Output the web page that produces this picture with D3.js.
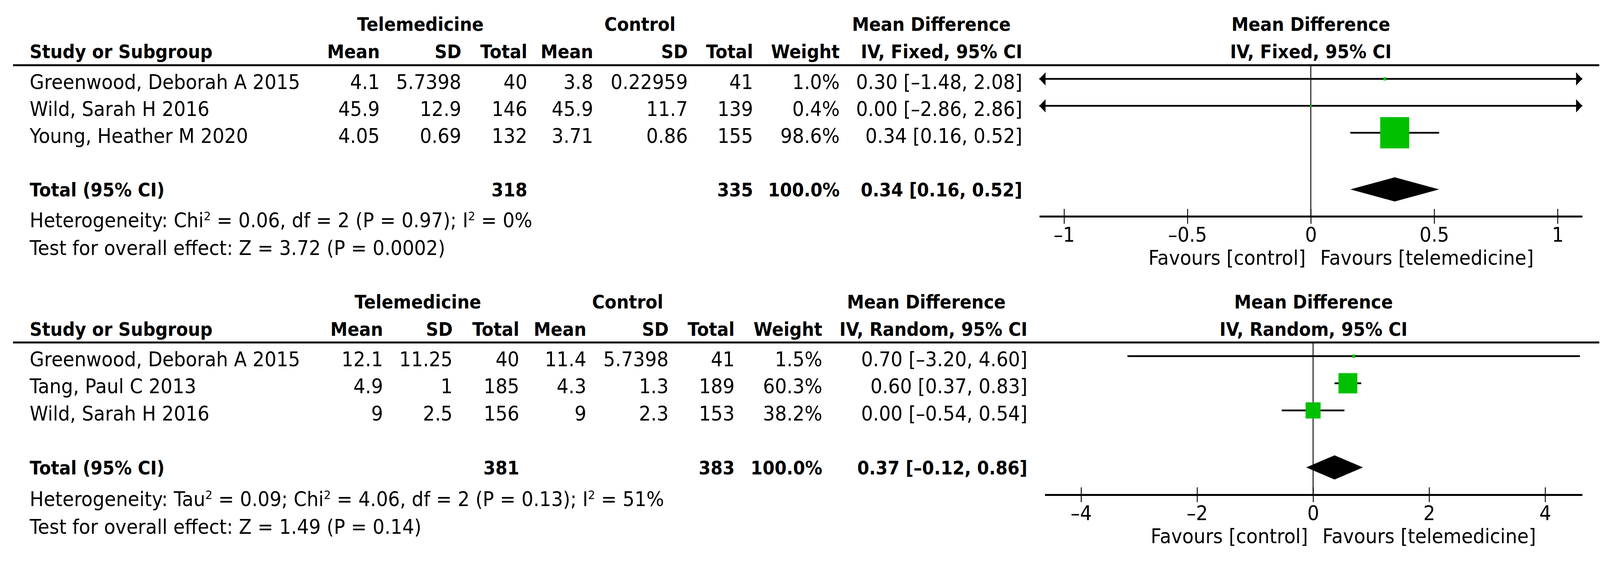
<!DOCTYPE html>
<html>
<head>
<meta charset="utf-8">
<script src="https://cdn.jsdelivr.net/npm/d3@7"></script>
<style>
  html, body { margin: 0; padding: 0; background: #fff; overflow: hidden; }
  svg { display: block; }
  text { font-family: "DejaVu Sans", sans-serif; font-size: 51.5px; fill: #000; }
  .b { font-weight: bold; font-size: 47.5px; }
</style>
</head>
<body>
<div id="chart"></div>
<script>
// panel 1 : IV, Fixed
const studies1 = ["Greenwood, Deborah A 2015", "Wild, Sarah H 2016", "Young, Heather M 2020"];
const teleMean1 = [4.1, 45.9, 4.05];
const teleSD1 = [5.7398, 12.9, 0.69];
const teleN1 = [40, 146, 132];
const ctrlMean1 = [3.8, 45.9, 3.71];
const ctrlSD1 = [0.22959, 11.7, 0.86];
const ctrlN1 = [41, 139, 155];
const weight1 = [1.0, 0.4, 98.6];
const md1 = [0.30, 0.00, 0.34];
const lo1 = [-1.48, -2.86, 0.16];
const hi1 = [2.08, 2.86, 0.52];
const total1 = [318, 335, 100.0, 0.34, 0.16, 0.52];
const het1 = "Heterogeneity: Chi² = 0.06, df = 2 (P = 0.97); I² = 0%";
const test1 = "Test for overall effect: Z = 3.72 (P = 0.0002)";
const ticks1 = [-1, -0.5, 0, 0.5, 1];
const domain1 = [-1.1, 1.1];

// panel 2 : IV, Random
const studies2 = ["Greenwood, Deborah A 2015", "Tang, Paul C 2013", "Wild, Sarah H 2016"];
const teleMean2 = [12.1, 4.9, 9];
const teleSD2 = [11.25, 1, 2.5];
const teleN2 = [40, 185, 156];
const ctrlMean2 = [11.4, 4.3, 9];
const ctrlSD2 = [5.7398, 1.3, 2.3];
const ctrlN2 = [41, 189, 153];
const weight2 = [1.5, 60.3, 38.2];
const md2 = [0.70, 0.60, 0.00];
const lo2 = [-3.20, 0.37, -0.54];
const hi2 = [4.60, 0.83, 0.54];
const total2 = [381, 383, 100.0, 0.37, -0.12, 0.86];
const het2 = "Heterogeneity: Tau² = 0.09; Chi² = 4.06, df = 2 (P = 0.13); I² = 51%";
const test2 = "Test for overall effect: Z = 1.49 (P = 0.14)";
const ticks2 = [-4, -2, 0, 2, 4];
const domain2 = [-4.625, 4.64];

const W = 4415, H = 1452;
const green = "#00c000";

const dash = s => s.replace("-", "\u2013");
const ciText = (m, l, h) => m.toFixed(2) + " [" + dash(l.toFixed(2)) + ", " + dash(h.toFixed(2)) + "]";

const panels = [
  {
    method: "IV, Fixed, 95% CI",
    studies: studies1, cells: [teleMean1, teleSD1, teleN1, ctrlMean1, ctrlSD1, ctrlN1],
    weight: weight1, md: md1, lo: lo1, hi: hi1, total: total1, het: het1, test: test1,
    ticks: ticks1, domain: domain1,
    cols: [1048, 1273, 1455, 1637, 1898, 2078, 2317, 2821], grp: [1160, 1766, 2570],
    grpY: 79, subY: 149, ruleY: 167, rows: [202, 340], totalY: 503, diaY: 485,
    hetY: 582, testY: 653, axisY: 554, range: [2868, 4366], maxBox: 80
  },
  {
    method: "IV, Random, 95% CI",
    studies: studies2, cells: [teleMean2, teleSD2, teleN2, ctrlMean2, ctrlSD2, ctrlN2],
    weight: weight2, md: md2, lo: lo2, hi: hi2, total: total2, het: het2, test: test2,
    ticks: ticks2, domain: domain2,
    cols: [1057, 1249, 1433, 1618, 1845, 2027, 2269, 2835], grp: [1153, 1732, 2556],
    grpY: 790, subY: 860, ruleY: 877, rows: [912, 1051], totalY: 1215, diaY: 1197,
    hetY: 1296, testY: 1367, axisY: 1267, range: [2883, 4366], maxBox: 52
  }
];

// stretch the drawing to whatever viewport the page gets
const svg = d3.select("#chart").append("svg")
  .attr("viewBox", `0 0 ${W} ${H}`)
  .attr("preserveAspectRatio", "none")
  .attr("width", "100vw").attr("height", "100vh");

function supText(g, x, y, str) {
  let t = g.append("text").attr("x", x).attr("y", y);
  let parts = str.split("²");
  parts.forEach((p, i) => {
    t.append("tspan").text(p).attr("dy", i > 0 ? 18 : null);
    if (i < parts.length - 1) {
      t.append("tspan").text("2").style("font-size", "31px").attr("dy", -18);
    }
  });
}

panels.forEach(p => {
  let g = svg.append("g");
  let x = d3.scaleLinear().domain(p.domain).range(p.range);
  let y = d3.scalePoint().domain(p.studies).range(p.rows);
  let box = d3.scaleSqrt().domain([0, d3.max(p.weight)]).range([0, p.maxBox]);
  let mid = (p.range[0] + p.range[1]) / 2;

  // headers
  ["Telemedicine", "Control", "Mean Difference"].forEach((s, i) => {
    g.append("text").attr("class", "b").attr("x", p.grp[i]).attr("y", p.grpY)
      .attr("text-anchor", "middle").text(s);
  });
  g.append("text").attr("class", "b").attr("x", mid).attr("y", p.grpY)
    .attr("text-anchor", "middle").text("Mean Difference");
  g.append("text").attr("class", "b").attr("x", 82).attr("y", p.subY).text("Study or Subgroup");
  ["Mean", "SD", "Total", "Mean", "SD", "Total", "Weight", p.method].forEach((s, i) => {
    g.append("text").attr("class", "b").attr("x", p.cols[i]).attr("y", p.subY)
      .attr("text-anchor", "end").text(s);
  });
  g.append("text").attr("class", "b").attr("x", mid).attr("y", p.subY)
    .attr("text-anchor", "middle").text(p.method);

  g.append("line").attr("x1", 36).attr("x2", 4413).attr("y1", p.ruleY).attr("y2", p.ruleY)
    .attr("stroke", "#000").attr("stroke-width", 5);

  // study rows
  p.studies.forEach((s, i) => {
    let ty = y(s) + 26;
    g.append("text").attr("x", 82).attr("y", ty).text(s);
    let vals = p.cells.map(c => String(c[i]));
    vals.push(p.weight[i].toFixed(1) + "%");
    vals.push(ciText(p.md[i], p.lo[i], p.hi[i]));
    vals.forEach((v, j) => {
      g.append("text").attr("x", p.cols[j]).attr("y", ty).attr("text-anchor", "end").text(v);
    });
  });

  // totals
  g.append("text").attr("class", "b").attr("x", 82).attr("y", p.totalY).text("Total (95% CI)");
  let tv = [String(p.total[0]), String(p.total[1]), p.total[2].toFixed(1) + "%",
            ciText(p.total[3], p.total[4], p.total[5])];
  [2, 5, 6, 7].forEach((c, j) => {
    g.append("text").attr("class", "b").attr("x", p.cols[c]).attr("y", p.totalY)
      .attr("text-anchor", "end").text(tv[j]);
  });
  supText(g, 82, p.hetY, p.het);
  g.append("text").attr("x", 82).attr("y", p.testY).text(p.test);

  // zero line
  g.append("line").attr("x1", x(0)).attr("x2", x(0)).attr("y1", p.ruleY).attr("y2", p.axisY)
    .attr("stroke", "#000").attr("stroke-width", 2.5);

  // CI lines, arrow heads where the interval runs off the scale
  p.studies.forEach((s, i) => {
    let yy = y(s);
    let a = Math.max(p.lo[i], p.domain[0]), b = Math.min(p.hi[i], p.domain[1]);
    g.append("line").attr("x1", x(a)).attr("x2", x(b)).attr("y1", yy).attr("y2", yy)
      .attr("stroke", "#000").attr("stroke-width", 4.5);
    if (p.lo[i] < p.domain[0]) {
      let t = x(p.domain[0]);
      g.append("path").attr("d", `M${t},${yy}L${t + 17},${yy - 17}L${t + 17},${yy + 17}Z`);
    }
    if (p.hi[i] > p.domain[1]) {
      let t = x(p.domain[1]);
      g.append("path").attr("d", `M${t},${yy}L${t - 17},${yy - 17}L${t - 17},${yy + 17}Z`);
    }
  });
  g.selectAll("rect.sq").data(p.studies).enter().append("rect")
    .attr("class", "sq")
    .attr("x", (d, i) => x(p.md[i]) - box(p.weight[i]) / 2)
    .attr("y", (d, i) => y(d) - box(p.weight[i]) / 2)
    .attr("width", (d, i) => box(p.weight[i]))
    .attr("height", (d, i) => box(p.weight[i]))
    .attr("fill", green);

  // diamond
  let dy = p.diaY;
  g.append("path")
    .attr("d", `M${x(p.total[4])},${dy}L${x(p.total[3])},${dy - 31}L${x(p.total[5])},${dy}L${x(p.total[3])},${dy + 31}Z`)
    .attr("fill", "#000");

  // axis
  let axis = d3.axisBottom(x).tickValues(p.ticks)
    .tickFormat(d => dash(String(d)))
    .tickSizeInner(19).tickSizeOuter(0).tickPadding(9);
  let ag = g.append("g").attr("transform", `translate(0,${p.axisY})`).call(axis);
  ag.attr("font-size", null).attr("font-family", null);
  ag.select(".domain").attr("stroke-width", 5);
  ag.selectAll(".tick line").attr("y1", -19).attr("stroke-width", 2.5);

  g.append("text").attr("x", x(0) - 14).attr("y", p.axisY + 124)
    .attr("text-anchor", "end").text("Favours [control]");
  g.append("text").attr("x", x(0) + 26).attr("y", p.axisY + 124)
    .text("Favours [telemedicine]");
});
</script>
</body>
</html>
